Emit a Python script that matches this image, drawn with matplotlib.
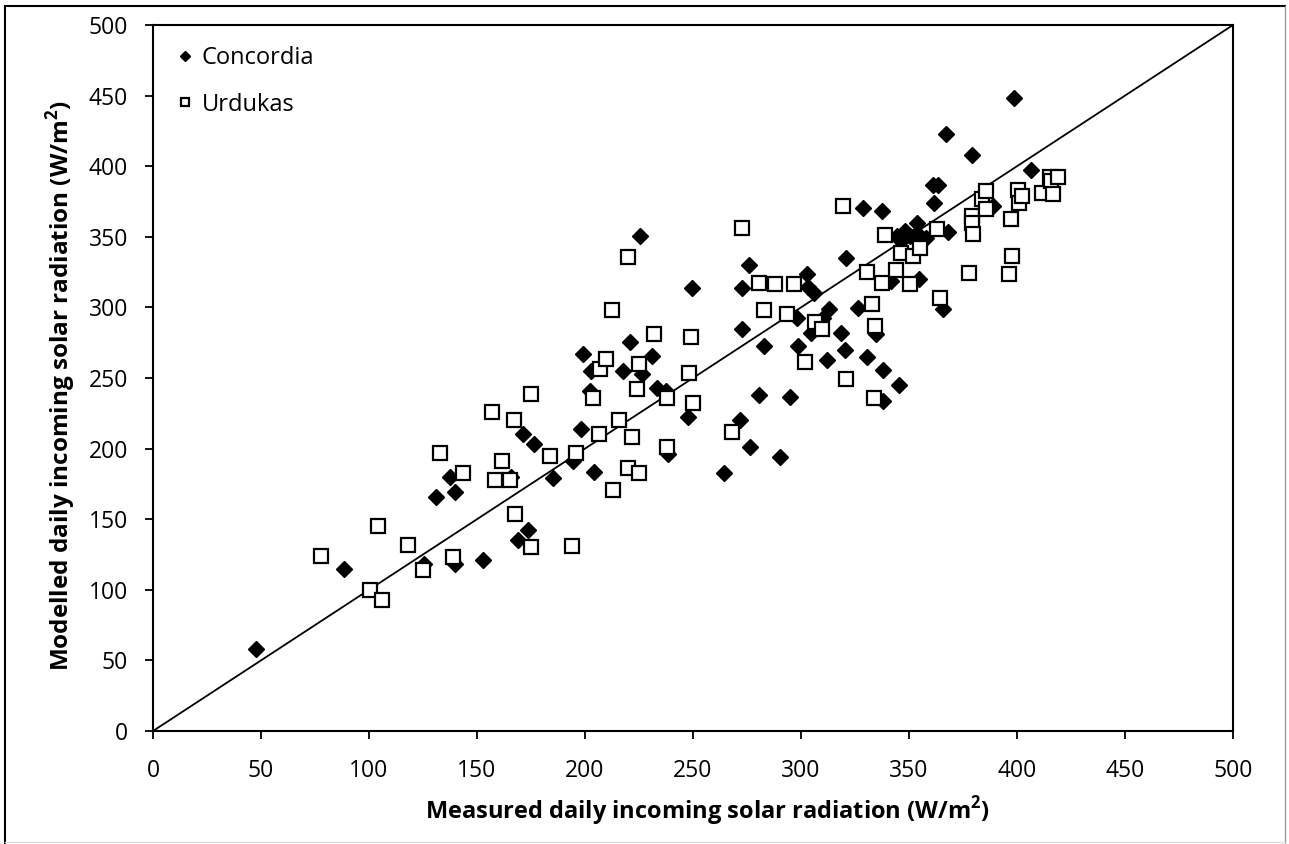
import matplotlib
matplotlib.use("Agg")
import matplotlib.pyplot as plt
from matplotlib.lines import Line2D

plt.rcParams['font.family'] = ['Open Sans', 'DejaVu Sans']

# Concordia (measured, modelled)
concordia_x = [47.7, 88.4, 125.5, 131, 137.5, 140, 140, 153, 165.7, 171.5, 176.4, 173.5, 169, 185,
               194.3, 198, 199.2, 202.6, 202.3, 204.3, 217.4, 220.8, 225.5, 226.5, 230.9, 233.2,
               237.5, 238.3, 247.5, 249.5, 264.5, 271.8, 272.7, 272.7, 276, 276.5, 280.6, 282.9,
               290.3, 295, 298.3, 298.5, 302.6, 303.4, 306, 304.5, 310.3, 312.2, 313, 318.4,
               320.4, 320.7, 326.5, 328.8, 330.4, 334.7, 337.3, 338, 338, 341.7, 345.5, 344.6,
               348.1, 350.5, 353.5, 353.5, 357.9, 354.8, 361.3, 363.6, 361.7, 365.9, 367, 367.9,
               379.2, 389, 398.6, 406.3, 346.5]
concordia_y = [58, 115, 118, 166, 180, 169, 118, 121, 180, 210.6, 203.5, 142, 135, 179,
               191, 214, 267, 254.8, 240.6, 183.4, 255, 275.6, 350.6, 252.5, 265.5, 243,
               241, 196.5, 222.4, 314, 183, 220, 284.4, 313.7, 329.8, 201, 237.7, 272.5,
               193.8, 236.6, 292.6, 273, 323.4, 314.6, 310.4, 282, 292.6, 262.4, 299, 282,
               269.6, 334.8, 299.6, 370.6, 265, 280.9, 368, 255.5, 233.5, 318.6, 244.7, 350.6,
               354.1, 350.6, 360, 352.8, 349.3, 320.3, 387, 387, 374, 299, 423, 353.6,
               408, 371.8, 448, 397, 347]

# Urdukas (measured, modelled)
urdukas_x = [77.6, 100.5, 104, 106, 118, 125, 133, 138.7, 143.7, 156.8, 158.3, 161.4, 165.3, 167,
             167.6, 175, 175, 184, 193.8, 195.8, 203.9, 206.5, 207, 209.7, 212.6, 212.8, 215.7,
             219.8, 220, 221.6, 223.9, 225, 225, 232, 238, 237.8, 248.3, 249, 249.9, 268,
             272.8, 280.6, 282.9, 288, 293.4, 296.8, 302, 306.5, 309.9, 319.6, 320.7, 330.4,
             332.7, 334.1, 334, 337.3, 338.9, 343.8, 346.3, 350.5, 352, 355.1, 363.1, 364.4,
             377.8, 379, 379, 379.8, 384, 385.5, 385.5, 396.3, 397.2, 397.8, 400.3, 401.1,
             402.2, 411.4, 415.3, 415.7, 416.8, 419.1]
urdukas_y = [124, 100, 145, 93, 132, 114, 197, 123, 183, 226, 177.5, 191.5, 177.5, 220,
             154, 130, 239, 195, 130.7, 197, 235.5, 210, 256.5, 263.5, 298, 171, 220.6,
             336, 186.2, 208.2, 242, 260, 182.6, 281.2, 236, 201, 253.6, 279, 232.3, 211.8,
             356, 317.5, 297.9, 316.8, 295.5, 316.3, 261, 289.6, 284.4, 372, 249, 325.2,
             302.5, 286.7, 235.5, 317.4, 351, 326.5, 338.7, 316.8, 336.4, 342.3, 355.7, 306.7,
             324.5, 364.8, 360, 351.8, 377, 382.5, 369.5, 323.4, 362.4, 336.4, 383, 374.2,
             379, 381.3, 392.4, 389.6, 380.6, 392.4]

one_to_one = [0, 500]
ticks = [0, 50, 100, 150, 200, 250, 300, 350, 400, 450, 500]

fig = plt.figure(figsize=(12.89, 8.44), dpi=100)
ax = fig.add_axes([153/1289, 1 - 731/844, (1233-153)/1289, (731-25)/844])

ax.plot(one_to_one, one_to_one, color='black', lw=1.3, zorder=1)
ax.plot(concordia_x, concordia_y, linestyle='none', marker='D', ms=8.5,
        mfc='black', mec='black', label='Concordia', zorder=2)
ax.plot(urdukas_x, urdukas_y, linestyle='none', marker='s', ms=10.5,
        mfc='white', mec='black', mew=1.6, label='Urdukas', zorder=3)

ax.set_xlim(0, 500)
ax.set_ylim(0, 500)
ax.set_xticks(ticks)
ax.set_yticks(ticks)
ax.tick_params(axis='both', direction='out', length=6, width=1.3, labelsize=16.5, color='black')
ax.tick_params(axis='x', pad=14)
ax.tick_params(axis='y', pad=12)
for s in ax.spines.values():
    s.set_linewidth(1.5)
    s.set_color('black')

ax.set_xlabel('Measured daily incoming solar radiation (W/m$^\\mathregular{2}$)',
              fontsize=17, fontweight='bold')
ax.set_ylabel('Modelled daily incoming solar radiation (W/m$^\\mathregular{2}$)',
              fontsize=17.5, fontweight='bold')
ax.xaxis.set_label_coords(0.513, -0.090)
ax.yaxis.set_label_coords(-0.069, 0.49)

leg = ax.legend(loc='upper left', bbox_to_anchor=(0.01, 0.99), frameon=False,
                fontsize=17, handlelength=0.6, handletextpad=0.4, labelspacing=0.95,
                borderaxespad=0.2, markerscale=0.6)

# outer frame of the picture
fig.add_artist(Line2D([5/1289, 5/1289], [1 - 6/844, 0.0], color='black', lw=1.5))
fig.add_artist(Line2D([5/1289, 1285/1289], [1 - 6/844, 1 - 6/844], color='black', lw=1.5))
fig.add_artist(Line2D([1285/1289, 1285/1289], [1 - 6/844, 0.0], color='#9a9a9a', lw=1.0))
fig.add_artist(Line2D([5/1289, 1285/1289], [2/844, 2/844], color='#dddddd', lw=1.0))

fig.savefig('out.png', dpi=100)
